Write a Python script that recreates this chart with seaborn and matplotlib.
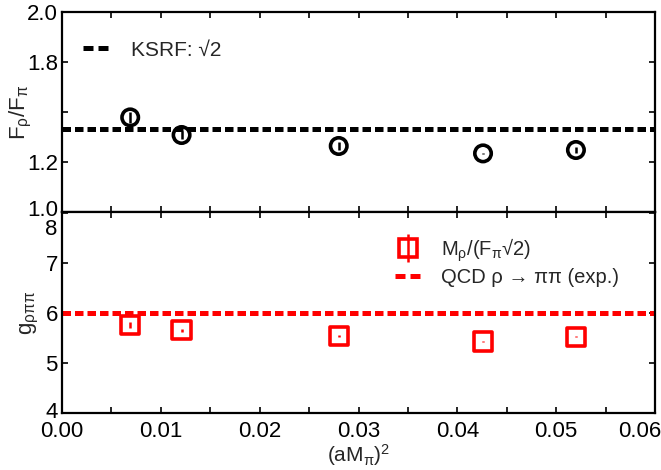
import numpy as np
import pandas as pd
import matplotlib
matplotlib.use("Agg")
import matplotlib.pyplot as plt
import matplotlib.transforms as mtrans
from matplotlib.lines import Line2D
from matplotlib.legend_handler import HandlerTuple
from matplotlib.ticker import MultipleLocator
import seaborn as sns

# ---------------- data ----------------
x_vals = [0.0069, 0.0121, 0.0280, 0.0426, 0.0520]          # (aM_pi)^2
f_ratio = [1.473, 1.385, 1.330, 1.293, 1.310]               # F_rho / F_pi
f_err = [0.029, 0.022, 0.020, 0.003, 0.016]
g_vals = [5.76, 5.66, 5.55, 5.43, 5.53]                     # g_rho pi pi
g_err = [0.057, 0.030, 0.020, 0.005, 0.015]
ksrf_value = 1.41421356                                     # KSRF sqrt(2)
g_exp_value = 6.0                                           # QCD rho -> pi pi (exp.)

top_yticks = [1.0, 1.25, 1.5, 1.75, 2.0]
top_yticklabels = ["1.0", "1.2", "", "1.8", "2.0"]
bot_yticks = [4, 5, 6, 7, 8]
bot_yticklabels = ["4", "5", "6", "7", "8"]
xticks = [0.00, 0.01, 0.02, 0.03, 0.04, 0.05, 0.06]
xticklabels = ["0.00", "0.01", "0.02", "0.03", "0.04", "0.05", "0.06"]

df = pd.DataFrame({"x": x_vals, "f": f_ratio, "fe": f_err, "g": g_vals, "ge": g_err})

# ---------------- style ----------------
sns.set_theme(style="ticks")
plt.rcParams["font.family"] = ["Liberation Sans", "DejaVu Sans"]
plt.rcParams["mathtext.fontset"] = "custom"
plt.rcParams["mathtext.rm"] = "Liberation Sans"
plt.rcParams["mathtext.it"] = "Liberation Sans:italic"
plt.rcParams["axes.linewidth"] = 1.6

fig = plt.figure(figsize=(6.61, 4.70), dpi=100)
left, right = 62 / 661, 655 / 661
ax1 = fig.add_axes([left, 1 - 212 / 470, right - left, 200 / 470])
ax2 = fig.add_axes([left, 1 - 413 / 470, right - left, 201 / 470])

for ax in (ax1, ax2):
    ax.set_facecolor("white")
    for s in ax.spines.values():
        s.set_visible(True)
        s.set_color("black")
    ax.tick_params(which="both", direction="in", top=True, right=True,
                   length=4, width=1.2, colors="black", labelsize=16, pad=3)
    ax.set_xlim(0.0, 0.06)
    ax.xaxis.set_minor_locator(MultipleLocator(0.005))
ax2.tick_params(axis="x", which="both", pad=6)

dash = (0, (1.7, 0.8))
legend_dash = (0, (2.0, 1.0))

# ---------------- top panel ----------------
ax1.axhline(ksrf_value, color="black", lw=3.6, ls=dash, zorder=1)
ax1.errorbar(df["x"], df["f"], yerr=df["fe"], fmt="none", ecolor="black",
             elinewidth=1.8, capsize=0, zorder=2)
sns.scatterplot(data=df, x="x", y="f", ax=ax1, marker="o", s=140,
                facecolors="none", edgecolor="black", linewidth=2.6, zorder=3)
ax1.set_ylim(1.0, 2.0)
ax1.set_yticks(top_yticks)
ax1.set_yticklabels(top_yticklabels)
ax1.set_xticks(xticks)
ax1.set_xticklabels([])
ax1.set_xlabel("")
ax1.set_ylabel(r"F$_{\mathregular{ρ}}$/F$_{\mathregular{π}}$", fontsize=16)
ax1.yaxis.set_label_coords(-0.048, 0.5)
lab = ax1.get_yticklabels()[0]
lab.set_transform(lab.get_transform() + mtrans.ScaledTranslation(0, 4 / 100, fig.dpi_scale_trans))

h_ksrf = Line2D([], [], color="black", lw=3.6, ls=legend_dash)
ax1.legend([h_ksrf], ["KSRF: √2"], loc="center left",
           frameon=False, fontsize=15, handlelength=1.2, handletextpad=1.1,
           bbox_to_anchor=(0.0, 0.81), borderaxespad=0.6)

# ---------------- bottom panel ----------------
ax2.axhline(g_exp_value, color="red", lw=3.6, ls=dash, zorder=1)
ax2.errorbar(df["x"], df["g"], yerr=df["ge"], fmt="none", ecolor="red",
             elinewidth=1.8, capsize=0, zorder=2)
sns.scatterplot(data=df, x="x", y="g", ax=ax2, marker="s", s=175,
                facecolors="none", edgecolor="red", linewidth=2.6, zorder=3)
ax2.set_ylim(4, 8.03)
ax2.set_yticks(bot_yticks)
ax2.set_yticklabels(bot_yticklabels)
ax2.set_xticks(xticks)
ax2.set_xticklabels(xticklabels)
ax2.set_xlabel(r"(aM$_{\mathregular{π}}$)$^{\mathregular{2}}$", fontsize=15)
ax2.xaxis.set_label_coords(0.5, -0.145)
ax2.set_ylabel(r"g$_{\mathregular{ρππ}}$", fontsize=16)
ax2.yaxis.set_label_coords(-0.036, 0.5)
lab = ax2.get_yticklabels()[-1]
lab.set_transform(lab.get_transform() + mtrans.ScaledTranslation(0, -14 / 100, fig.dpi_scale_trans))
lab = ax2.get_yticklabels()[0]
lab.set_transform(lab.get_transform() + mtrans.ScaledTranslation(0, 3 / 100, fig.dpi_scale_trans))
lab = ax2.get_xticklabels()[-1]
lab.set_transform(lab.get_transform() + mtrans.ScaledTranslation(-15 / 100, 0, fig.dpi_scale_trans))

h_sq = Line2D([], [], marker="s", ls="none", markersize=13, markerfacecolor="none",
              markeredgecolor="red", markeredgewidth=2.6)
h_bar = Line2D([], [], marker="|", ls="none", markersize=20, markeredgecolor="red",
               markeredgewidth=1.8)
h_exp = Line2D([], [], color="red", lw=3.6, ls=legend_dash)
ax2.legend([(h_sq, h_bar), h_exp],
           [r"M$_{\mathregular{ρ}}$/(F$_{\mathregular{π}}$√2)",
            "QCD ρ → ππ (exp.)"],
           handler_map={tuple: HandlerTuple(ndivide=1, pad=0)},
           loc="upper left", bbox_to_anchor=(0.531, 0.97), frameon=False,
           fontsize=14.5, handlelength=1.3, handletextpad=1.0, labelspacing=0.2)

fig.savefig("out.png", dpi=100, facecolor="white")
